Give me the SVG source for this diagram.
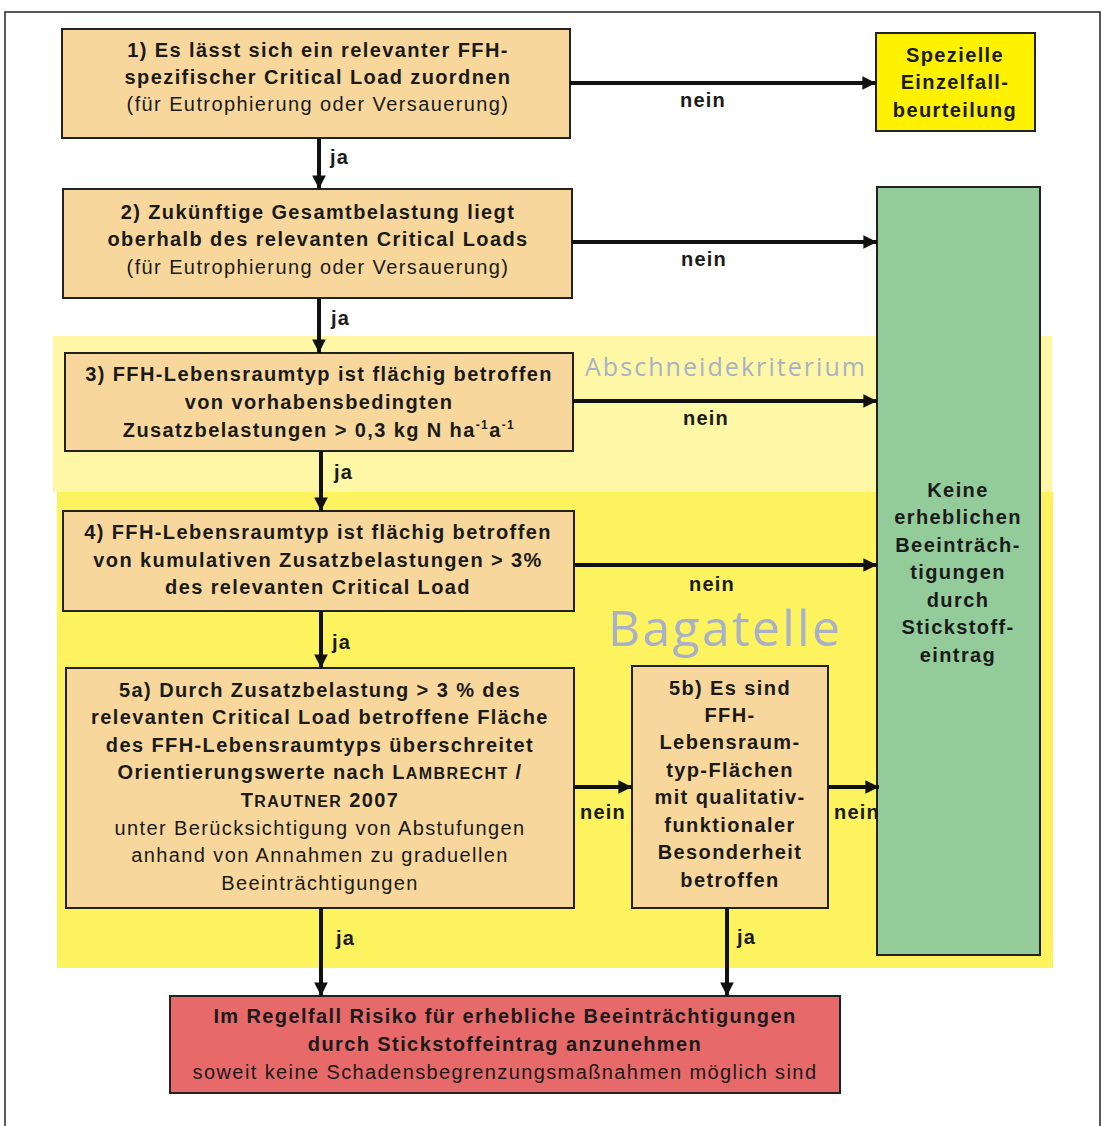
<svg xmlns="http://www.w3.org/2000/svg" width="1102" height="1126" viewBox="0 0 1102 1126">
<defs>
<marker id="ah" viewBox="0 0 10 10" refX="10" refY="5" markerWidth="3.6" markerHeight="3.4" orient="auto" markerUnits="strokeWidth">
<path d="M0,0 L10,5 L0,10 z" fill="#111"/>
</marker>
<style>
.box{fill:#f8d79c;stroke:#222;stroke-width:2}
.t{font-family:"Liberation Sans",Arial,sans-serif;font-size:20px;letter-spacing:1.4px;fill:#1a1a1a;text-anchor:middle}
.b{font-weight:bold}
.lbl{font-family:"Liberation Sans",Arial,sans-serif;font-size:20px;letter-spacing:1.2px;font-weight:bold;fill:#1a1a1a}
.con{stroke:#111;stroke-width:4;fill:none;marker-end:url(#ah)}
.bg{font-family:"Open Sans","Liberation Sans",sans-serif;fill:#a9b1c9}
</style>
</defs>
<rect width="1102" height="1126" fill="#fff"/>
<path d="M5,1126 V12 H1100 V1126" fill="none" stroke="#222" stroke-width="1.5"/>

<g id="bands">
<rect x="53" y="336" width="999" height="156" fill="#fdf7a6"/>
<rect x="57" y="492" width="996" height="476" fill="#fdf35f"/>
<text class="bg" x="585" y="376" font-size="25" textLength="280">Abschneidekriterium</text>
<text class="bg" x="608" y="646" font-size="50" textLength="232">Bagatelle</text>
</g>

<g id="node1">
<rect class="box" x="62" y="29" width="508" height="109"/>
<text class="t b" x="318" y="57">1) Es lässt sich ein relevanter FFH-</text>
<text class="t b" x="318" y="84">spezifischer Critical Load zuordnen</text>
<text class="t" x="318" y="111">(für Eutrophierung oder Versauerung)</text>
</g>

<g id="nodeSpez">
<rect x="876" y="33" width="159" height="98" fill="#fef200" stroke="#222" stroke-width="2"/>
<text class="t b" x="955" y="62">Spezielle</text>
<text class="t b" x="955" y="89">Einzelfall-</text>
<text class="t b" x="955" y="117">beurteilung</text>
</g>

<g id="node2">
<rect class="box" x="63" y="189" width="509" height="109"/>
<text class="t b" x="318" y="219">2) Zukünftige Gesamtbelastung liegt</text>
<text class="t b" x="318" y="246">oberhalb des relevanten Critical Loads</text>
<text class="t" x="318" y="274">(für Eutrophierung oder Versauerung)</text>
</g>

<g id="nodeGreen">
<rect x="877" y="187" width="163" height="768" fill="#93cb9b" stroke="#222" stroke-width="2"/>
<text class="t b" x="958" y="497">Keine</text>
<text class="t b" x="958" y="524">erheblichen</text>
<text class="t b" x="958" y="552">Beeinträch-</text>
<text class="t b" x="958" y="579">tigungen</text>
<text class="t b" x="958" y="607">durch</text>
<text class="t b" x="958" y="634">Stickstoff-</text>
<text class="t b" x="958" y="662">eintrag</text>
</g>

<g id="node3">
<rect class="box" x="65" y="353" width="508" height="98"/>
<text class="t b" x="319" y="381">3) FFH-Lebensraumtyp ist flächig betroffen</text>
<text class="t b" x="319" y="409">von vorhabensbedingten</text>
<text class="t b" x="319" y="437">Zusatzbelastungen &gt; 0,3 kg N ha<tspan font-size="12" dy="-8">-1</tspan><tspan dy="8">a</tspan><tspan font-size="12" dy="-8">-1</tspan></text>
</g>

<g id="node4">
<rect class="box" x="63" y="511" width="511" height="100"/>
<text class="t b" x="318" y="539">4) FFH-Lebensraumtyp ist flächig betroffen</text>
<text class="t b" x="318" y="567">von kumulativen Zusatzbelastungen &gt; 3%</text>
<text class="t b" x="318" y="594">des relevanten Critical Load</text>
</g>

<g id="node5a">
<rect class="box" x="66" y="668" width="508" height="240"/>
<text class="t b" x="320" y="697">5a) Durch Zusatzbelastung &gt; 3 % des</text>
<text class="t b" x="320" y="724">relevanten Critical Load betroffene Fläche</text>
<text class="t b" x="320" y="752">des FFH-Lebensraumtyps überschreitet</text>
<text class="t b" x="320" y="779">Orientierungswerte nach L<tspan font-size="16">AMBRECHT</tspan> /</text>
<text class="t b" x="320" y="807">T<tspan font-size="16">RAUTNER</tspan> 2007</text>
<text class="t" x="320" y="835">unter Berücksichtigung von Abstufungen</text>
<text class="t" x="320" y="862">anhand von Annahmen zu graduellen</text>
<text class="t" x="320" y="890">Beeinträchtigungen</text>
</g>

<g id="node5b">
<rect class="box" x="632" y="666" width="196" height="242"/>
<text class="t b" x="730" y="695">5b) Es sind</text>
<text class="t b" x="730" y="722">FFH-</text>
<text class="t b" x="730" y="749">Lebensraum-</text>
<text class="t b" x="730" y="777">typ-Flächen</text>
<text class="t b" x="730" y="804">mit qualitativ-</text>
<text class="t b" x="730" y="832">funktionaler</text>
<text class="t b" x="730" y="859">Besonderheit</text>
<text class="t b" x="730" y="887">betroffen</text>
</g>

<g id="nodeRed">
<rect x="170" y="996" width="670" height="97" fill="#e8696a" stroke="#222" stroke-width="2"/>
<text class="t b" x="505" y="1023">Im Regelfall Risiko für erhebliche Beeinträchtigungen</text>
<text class="t b" x="505" y="1051">durch Stickstoffeintrag anzunehmen</text>
<text class="t" x="505" y="1079">soweit keine Schadensbegrenzungsmaßnahmen möglich sind</text>
</g>

<g id="connectors">
<line class="con" x1="570" y1="83" x2="876" y2="83"/>
<line class="con" x1="319" y1="138" x2="319" y2="189"/>
<line class="con" x1="572" y1="242" x2="877" y2="242"/>
<line class="con" x1="319" y1="298" x2="319" y2="353"/>
<line class="con" x1="573" y1="401" x2="877" y2="401"/>
<line class="con" x1="321" y1="451" x2="321" y2="511"/>
<line class="con" x1="574" y1="565" x2="877" y2="565"/>
<line class="con" x1="321" y1="611" x2="321" y2="668"/>
<line class="con" x1="574" y1="787" x2="632" y2="787"/>
<line class="con" x1="828" y1="787" x2="879" y2="787"/>
<line class="con" x1="321" y1="908" x2="321" y2="996"/>
<line class="con" x1="727" y1="908" x2="727" y2="996"/>
<text class="lbl" x="680" y="107">nein</text>
<text class="lbl" x="330" y="164">ja</text>
<text class="lbl" x="681" y="266">nein</text>
<text class="lbl" x="331" y="325">ja</text>
<text class="lbl" x="683" y="425">nein</text>
<text class="lbl" x="334" y="479">ja</text>
<text class="lbl" x="689" y="591">nein</text>
<text class="lbl" x="332" y="649">ja</text>
<text class="lbl" x="580" y="819">nein</text>
<text class="lbl" x="834" y="819">nein</text>
<text class="lbl" x="336" y="945">ja</text>
<text class="lbl" x="737" y="944">ja</text>
</g>
</svg>
